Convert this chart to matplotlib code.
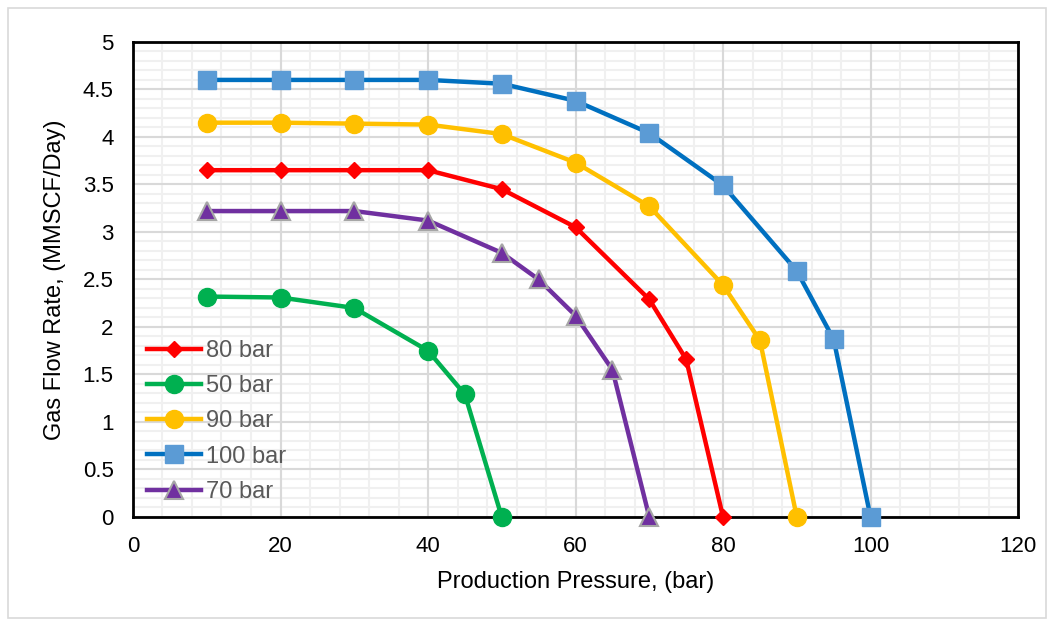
import matplotlib.pyplot as plt
from matplotlib.patches import Rectangle

plt.rcParams['font.family'] = ['Liberation Sans', 'DejaVu Sans']

# Data
p_80 = [10, 20, 30, 40, 50, 60, 70, 75, 80]
q_80 = [3.65, 3.65, 3.65, 3.65, 3.45, 3.05, 2.29, 1.66, 0]
p_50 = [10, 20, 30, 40, 45, 50]
q_50 = [2.32, 2.31, 2.2, 1.75, 1.29, 0]
p_90 = [10, 20, 30, 40, 50, 60, 70, 80, 85, 90]
q_90 = [4.15, 4.15, 4.14, 4.13, 4.03, 3.73, 3.27, 2.44, 1.86, 0]
p_100 = [10, 20, 30, 40, 50, 60, 70, 80, 90, 95, 100]
q_100 = [4.6, 4.6, 4.6, 4.6, 4.56, 4.38, 4.04, 3.49, 2.59, 1.87, 0]
p_70 = [10, 20, 30, 40, 50, 55, 60, 65, 70]
q_70 = [3.22, 3.22, 3.22, 3.12, 2.78, 2.5, 2.12, 1.55, 0]

x_major = [0, 20, 40, 60, 80, 100, 120]
y_major = [0, 0.5, 1, 1.5, 2, 2.5, 3, 3.5, 4, 4.5, 5]
y_labels = ['0', '0.5', '1', '1.5', '2', '2.5', '3', '3.5', '4', '4.5', '5']
x_minor = list(range(0, 121, 4))
y_minor = [i / 10 for i in range(0, 51)]

fig = plt.figure(figsize=(10.53, 6.21), dpi=100)
fig.patches.append(Rectangle((0.008, 0.005), 0.985, 0.982, transform=fig.transFigure,
                             fill=False, edgecolor='#d9d9d9', linewidth=1.2))
ax = fig.add_axes([0.1263, 0.1675, 0.8405, 0.765])

# gridlines: minor first, then major on top
for x in x_minor:
    ax.axvline(x, color='#f0f0f0', lw=1.5, zorder=1)
for y in y_minor:
    ax.axhline(y, color='#f0f0f0', lw=1.5, zorder=1)
for x in x_major:
    ax.axvline(x, color='#d9d9d9', lw=1.5, zorder=1.5)
for y in y_major:
    ax.axhline(y, color='#d9d9d9', lw=1.5, zorder=1.5)

lw = 3.2
ax.plot(p_80, q_80, color='#ff0000', lw=lw, marker='D', ms=8, label='80 bar',
        zorder=5, clip_on=False)
ax.plot(p_50, q_50, color='#00b050', lw=lw, marker='o', ms=13, label='50 bar',
        zorder=5, clip_on=False)
ax.plot(p_90, q_90, color='#ffc000', lw=lw, marker='o', ms=13, label='90 bar',
        zorder=5, clip_on=False)
ax.plot(p_100, q_100, color='#0070c0', lw=lw, marker='s', ms=13, mfc='#5b9bd5',
        mec='#5b9bd5', label='100 bar', zorder=5, clip_on=False)
ax.plot(p_70, q_70, color='#7030a0', lw=lw, marker='^', ms=13, mfc='#7030a0',
        mec='#a6a6a6', mew=1.5, label='70 bar', zorder=5, clip_on=False)

ax.set_xlim(0, 120)
ax.set_ylim(0, 5)
ax.set_xticks(x_major)
ax.set_yticks(y_major)
ax.set_yticklabels(y_labels)
ax.tick_params(which='both', length=0, labelsize=16, colors='#000000', pad=14)
for s in ax.spines.values():
    s.set_color('black')
    s.set_linewidth(2)
    s.set_zorder(4)

ax.set_xlabel('Production Pressure, (bar)', fontsize=17, labelpad=10)
ax.set_ylabel('Gas Flow Rate, (MMSCF/Day)', fontsize=17, labelpad=12)

leg = ax.legend(loc='lower left', bbox_to_anchor=(0.0, 0.0), frameon=False, fontsize=17,
                handlelength=2.3, handletextpad=0.2, labelspacing=0.56, borderaxespad=0.4,
                borderpad=0.2, labelcolor='#595959')

fig.savefig('out.png', dpi=100)
